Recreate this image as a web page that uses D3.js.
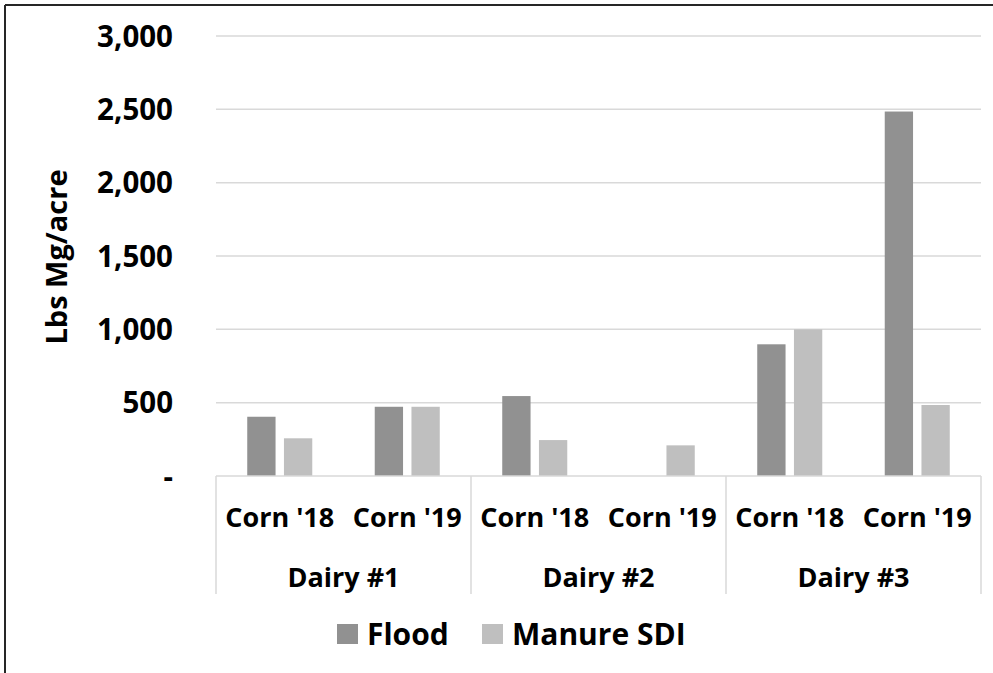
<!DOCTYPE html>
<html>
<head>
<meta charset="utf-8">
<script src="https://cdn.jsdelivr.net/npm/d3@7"></script>
<style>
  html, body { margin: 0; padding: 0; background: #fff; }
  svg { display: block; }
  text { font-family: "Open Sans", "Noto Sans", sans-serif; font-weight: 700; fill: #000; }
</style>
</head>
<body>
<svg id="chart" width="993" height="673"></svg>
<script>
// Nitrogen-removal data by dairy and crop year
const farms = ["Dairy #1", "Dairy #2", "Dairy #3"];
const crops = ["Corn '18", "Corn '19"];
const seriesNames = ["Flood", "Manure SDI"];
const floodValues  = [404, 472, 545, null, 898, 2485];
const manureValues = [257, 472, 245, 209, 1000, 484];
const yTicks = [0, 500, 1000, 1500, 2000, 2500, 3000];
const seriesColors = ["#919191", "#bfbfbf"];

const svg = d3.select("#chart");
const W = 993, H = 673;
const plot = { left: 216, right: 981, top: 36, bottom: 476 };

// Flattened category list: one entry per farm / crop pair
const cells = [];
farms.forEach((f, fi) => crops.forEach((c, ci) => {
  const i = fi * crops.length + ci;
  cells.push({ key: f + "|" + c, farm: f, crop: c, values: [floodValues[i], manureValues[i]] });
}));

const x0 = d3.scaleBand().domain(farms).range([plot.left, plot.right]).padding(0);
const x = d3.scaleBand().domain(cells.map(d => d.key)).range([plot.left, plot.right]).padding(0);
const x1 = d3.scaleBand().domain(seriesNames).range([0, x.bandwidth()])
  .paddingInner(0.229).paddingOuter(0.851);
const y = d3.scaleLinear().domain([0, 3000]).range([plot.bottom, plot.top]);
const color = d3.scaleOrdinal().domain(seriesNames).range(seriesColors);

// Outer frame (top and left edges)
svg.append("line").attr("x1", 5).attr("x2", W).attr("y1", 5).attr("y2", 5)
  .attr("stroke", "#262626").attr("stroke-width", 2);
svg.append("line").attr("x1", 5).attr("x2", 5).attr("y1", 5).attr("y2", H)
  .attr("stroke", "#262626").attr("stroke-width", 2);

// Horizontal gridlines
svg.append("g").selectAll("line").data(yTicks.filter(t => t > 0)).join("line")
  .attr("x1", plot.left).attr("x2", plot.right)
  .attr("y1", d => y(d)).attr("y2", d => y(d))
  .attr("stroke", "#d9d9d9").attr("stroke-width", 1.5);

// Y tick labels
const fmt = d3.format(",");
svg.append("g").selectAll("text").data(yTicks).join("text")
  .attr("x", 173).attr("y", d => y(d)).attr("dy", "0.36em")
  .attr("text-anchor", "end").style("font-size", "29.5px")
  .text(d => d === 0 ? "-" : fmt(d));

// Y axis title
svg.append("text")
  .attr("transform", `translate(67,${(plot.top + plot.bottom) / 2 + 1}) rotate(-90)`)
  .attr("text-anchor", "middle").style("font-size", "29px")
  .text("Lbs Mg/acre");

// Bars
const groups = svg.append("g").selectAll("g").data(cells).join("g")
  .attr("transform", d => `translate(${x(d.key)},0)`);
groups.selectAll("rect")
  .data(d => d.values.map((v, i) => ({ name: seriesNames[i], value: v })).filter(e => e.value != null))
  .join("rect")
  .attr("x", d => x1(d.name)).attr("width", x1.bandwidth())
  .attr("y", d => y(d.value)).attr("height", d => y(0) - y(d.value))
  .attr("fill", d => color(d.name));

// Category axis: baseline and farm dividers
const axisColor = "#d9d9d9";
svg.append("line").attr("x1", plot.left).attr("x2", plot.right)
  .attr("y1", plot.bottom).attr("y2", plot.bottom)
  .attr("stroke", axisColor).attr("stroke-width", 1.5);
const dividers = farms.map(f => x0(f)).concat([x0(farms[farms.length - 1]) + x0.bandwidth()]);
svg.append("g").selectAll("line").data(dividers).join("line")
  .attr("x1", d => d).attr("x2", d => d)
  .attr("y1", plot.bottom).attr("y2", 594)
  .attr("stroke", axisColor).attr("stroke-width", 1.5);

// Crop labels
svg.append("g").selectAll("text").data(cells).join("text")
  .attr("x", d => x(d.key) + x.bandwidth() / 2).attr("y", 527)
  .attr("text-anchor", "middle").style("font-size", "27px")
  .text(d => d.crop);

// Farm labels
svg.append("g").selectAll("text").data(farms).join("text")
  .attr("x", d => x0(d) + x0.bandwidth() / 2).attr("y", 587)
  .attr("text-anchor", "middle").style("font-size", "27px")
  .text(d => d);

// Legend
const legendX = [337, 482];
const legend = svg.append("g").selectAll("g").data(seriesNames).join("g")
  .attr("transform", (d, i) => `translate(${legendX[i]},624)`);
legend.append("rect").attr("width", 21).attr("height", 20).attr("fill", d => color(d));
legend.append("text").attr("x", 30).attr("y", 21)
  .style("font-size", "30px").text(d => d);
</script>
</body>
</html>
